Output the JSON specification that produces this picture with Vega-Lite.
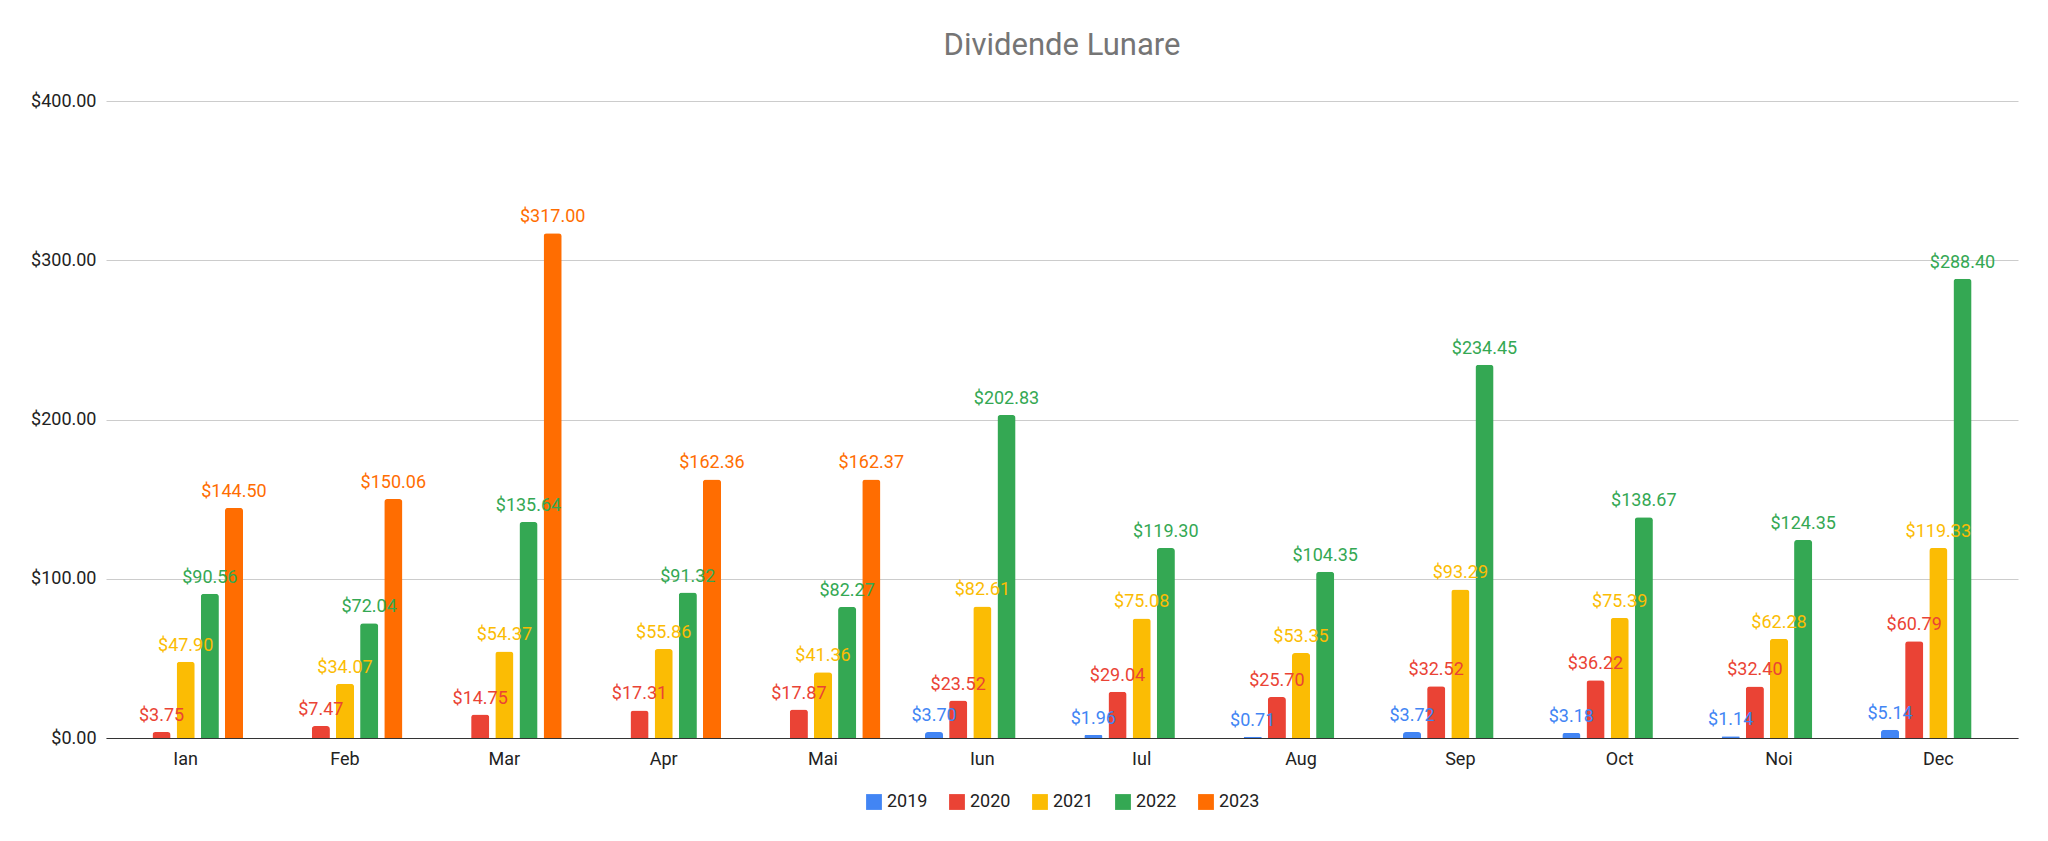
{
  "$schema": "https://vega.github.io/schema/vega-lite/v6.json",
  "autosize": {"type": "fit", "contains": "padding"},
  "width": 2048,
  "height": 841,
  "padding": {"left": 30, "right": 30, "top": 30, "bottom": 30},
  "title": {"text": "Dividende Lunare", "font": "Roboto", "fontSize": 31, "fontWeight": "normal", "color": "#757575", "offset": 30},
  "data": {"values": [
    {"m":"Ian","y":"2020","v":3.75},{"m":"Ian","y":"2021","v":47.90},{"m":"Ian","y":"2022","v":90.56},{"m":"Ian","y":"2023","v":144.50},
    {"m":"Feb","y":"2020","v":7.47},{"m":"Feb","y":"2021","v":34.07},{"m":"Feb","y":"2022","v":72.04},{"m":"Feb","y":"2023","v":150.06},
    {"m":"Mar","y":"2020","v":14.75},{"m":"Mar","y":"2021","v":54.37},{"m":"Mar","y":"2022","v":135.64},{"m":"Mar","y":"2023","v":317.00},
    {"m":"Apr","y":"2020","v":17.31},{"m":"Apr","y":"2021","v":55.86},{"m":"Apr","y":"2022","v":91.32},{"m":"Apr","y":"2023","v":162.36},
    {"m":"Mai","y":"2020","v":17.87},{"m":"Mai","y":"2021","v":41.36},{"m":"Mai","y":"2022","v":82.27},{"m":"Mai","y":"2023","v":162.37},
    {"m":"Iun","y":"2019","v":3.70},{"m":"Iun","y":"2020","v":23.52},{"m":"Iun","y":"2021","v":82.61},{"m":"Iun","y":"2022","v":202.83},
    {"m":"Iul","y":"2019","v":1.96},{"m":"Iul","y":"2020","v":29.04},{"m":"Iul","y":"2021","v":75.08},{"m":"Iul","y":"2022","v":119.30},
    {"m":"Aug","y":"2019","v":0.71},{"m":"Aug","y":"2020","v":25.70},{"m":"Aug","y":"2021","v":53.35},{"m":"Aug","y":"2022","v":104.35},
    {"m":"Sep","y":"2019","v":3.72},{"m":"Sep","y":"2020","v":32.52},{"m":"Sep","y":"2021","v":93.29},{"m":"Sep","y":"2022","v":234.45},
    {"m":"Oct","y":"2019","v":3.18},{"m":"Oct","y":"2020","v":36.22},{"m":"Oct","y":"2021","v":75.39},{"m":"Oct","y":"2022","v":138.67},
    {"m":"Noi","y":"2019","v":1.14},{"m":"Noi","y":"2020","v":32.40},{"m":"Noi","y":"2021","v":62.28},{"m":"Noi","y":"2022","v":124.35},
    {"m":"Dec","y":"2019","v":5.14},{"m":"Dec","y":"2020","v":60.79},{"m":"Dec","y":"2021","v":119.33},{"m":"Dec","y":"2022","v":288.40}
  ]},
  "encoding": {
    "x": {"field": "m", "type": "nominal", "sort": null, "title": null,
      "scale": {"paddingInner": 0.28, "paddingOuter": 0.14},
      "axis": {"labelAngle": 0, "labelFont": "Roboto", "labelFontSize": 18, "labelColor": "#222", "ticks": false, "domainColor": "#333", "labelPadding": 12}},
    "xOffset": {"field": "y", "type": "nominal", "scale": {"domain": ["2019","2020","2021","2022","2023"], "paddingInner": 0.25}},
    "y": {"field": "v", "type": "quantitative", "title": null,
      "scale": {"domain": [0, 400], "nice": false},
      "axis": {"values": [0,100,200,300,400], "format": "$,.2f", "labelFont": "Roboto", "labelFontSize": 18, "labelColor": "#222", "ticks": false, "domain": false, "gridColor": "#cccccc", "labelPadding": 10}},
    "color": {"field": "y", "type": "nominal", "title": null,
      "scale": {"domain": ["2019","2020","2021","2022","2023"], "range": ["#4285F4","#EA4335","#FBBC04","#34A853","#FF6D01"]},
      "legend": {"orient": "bottom", "direction": "horizontal", "symbolType": "square", "symbolSize": 250, "labelFont": "Roboto", "labelFontSize": 18, "labelColor": "#222", "columnPadding": 20, "offset": 25, "legendX": 0, "layout": {"bottom": {"anchor": "middle"}}}}
  },
  "layer": [
    {"mark": {"type": "bar", "cornerRadiusTopLeft": 3, "cornerRadiusTopRight": 3}},
    {"mark": {"type": "text", "dy": -16, "font": "Roboto", "fontSize": 18},
     "encoding": {"text": {"field": "v", "type": "quantitative", "format": "$,.2f"}}}
  ],
  "config": {"view": {"stroke": null}, "legend": {"layout": {"bottom": {"anchor": "middle"}}}}
}
